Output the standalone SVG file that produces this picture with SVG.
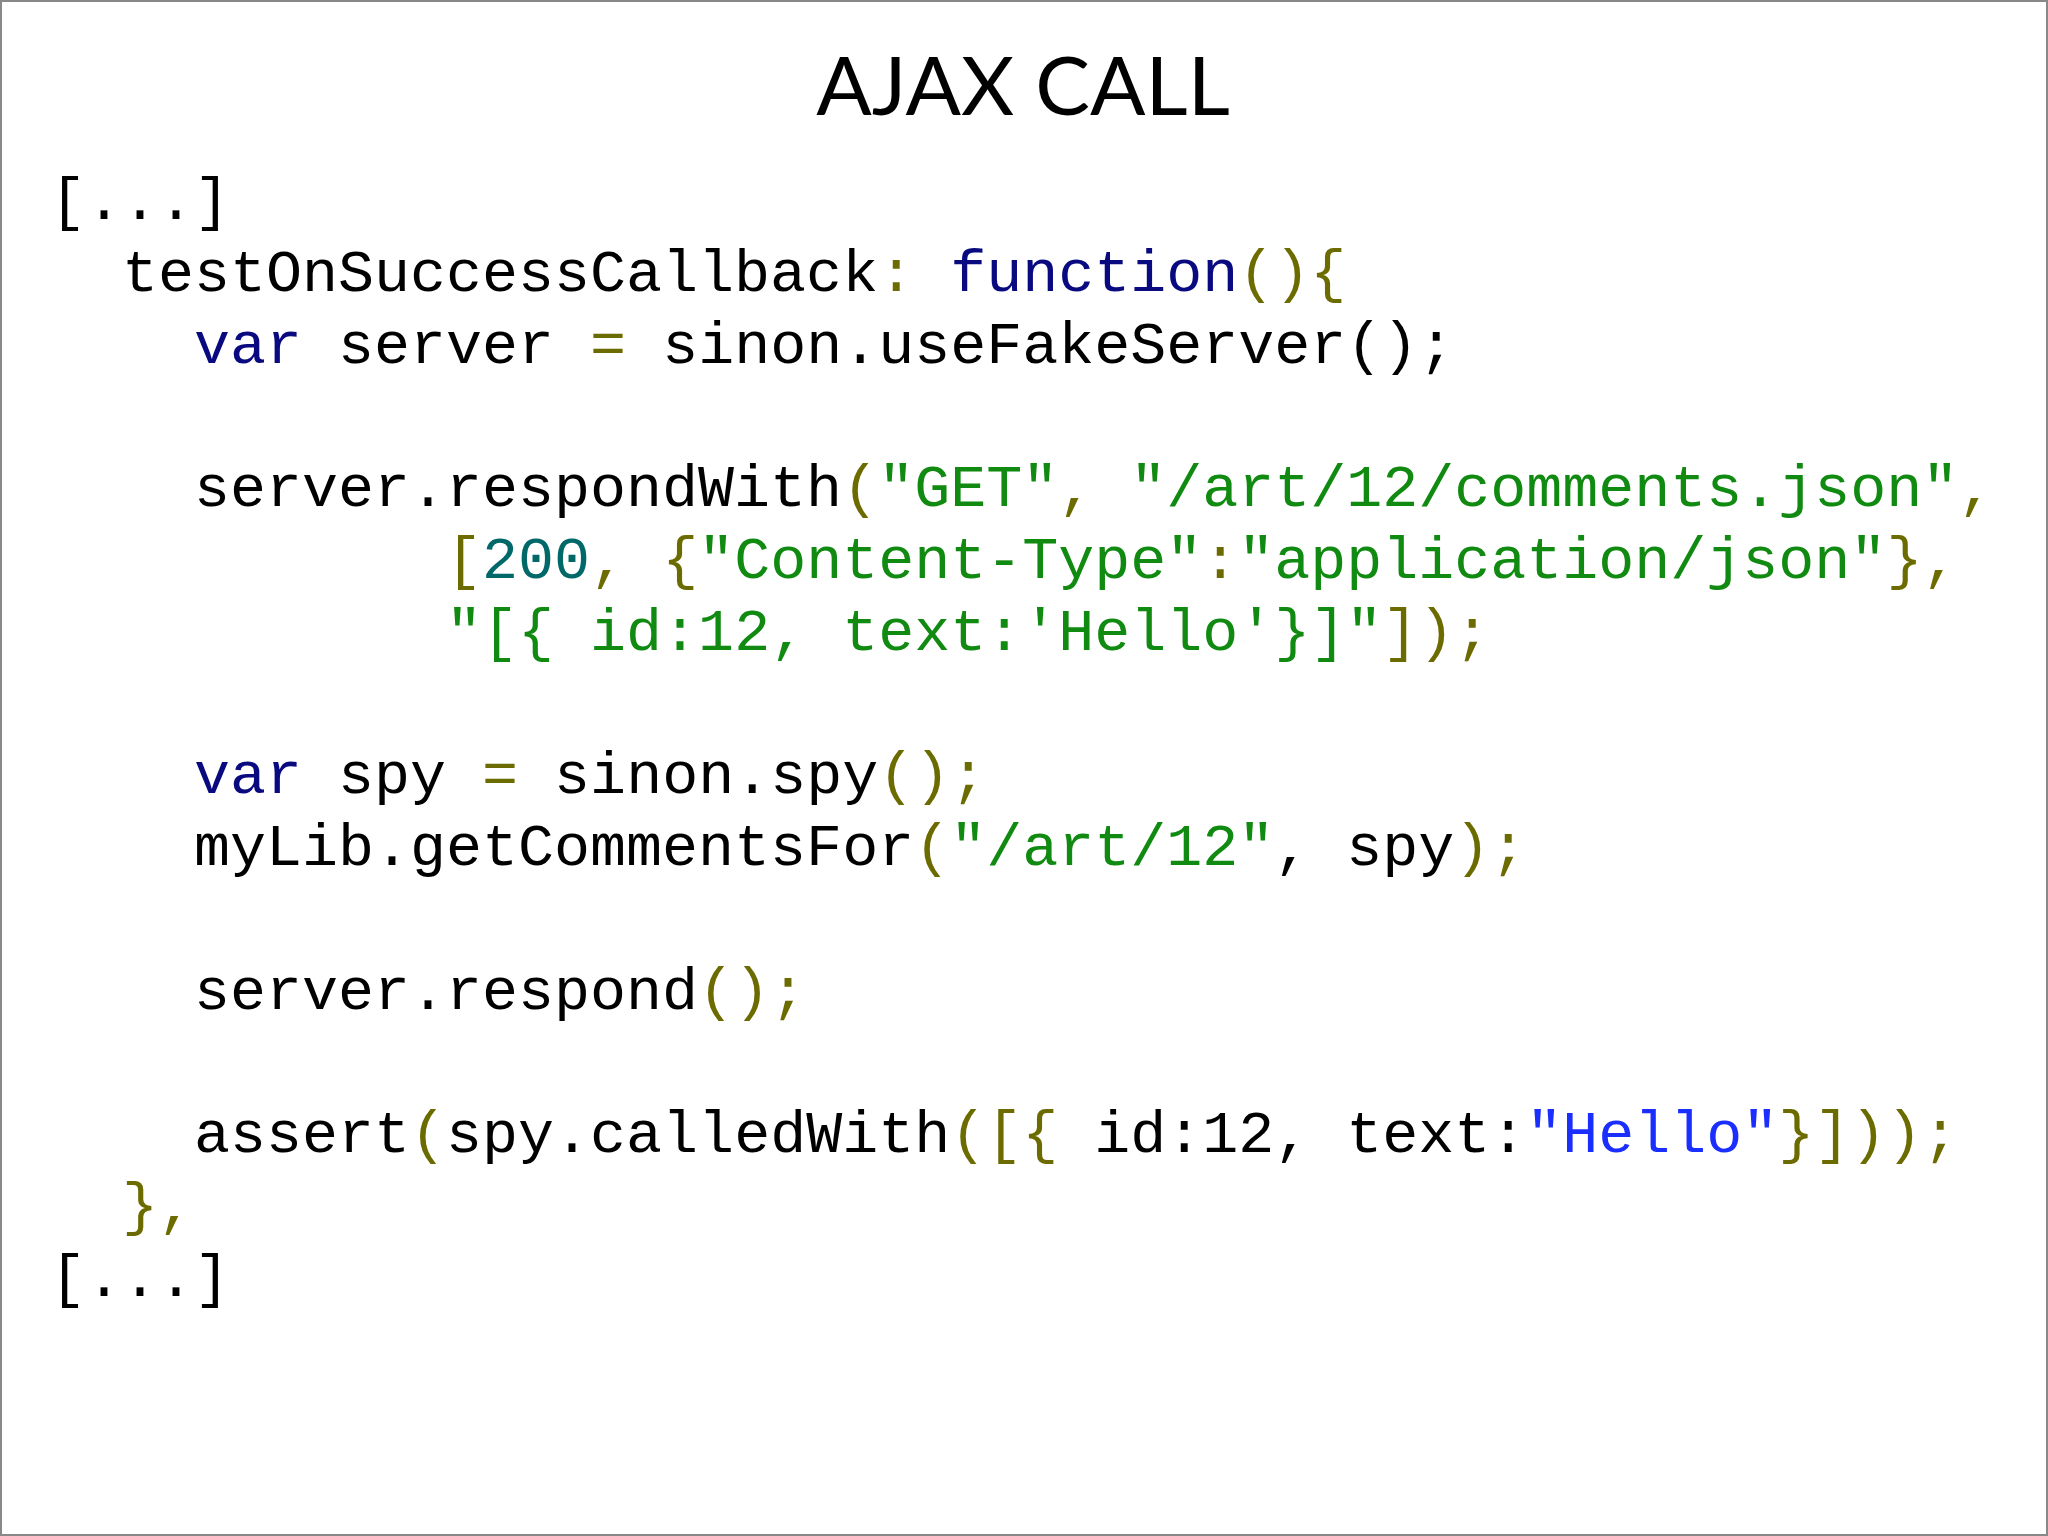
<svg xmlns="http://www.w3.org/2000/svg" width="2048" height="1536" viewBox="0 0 2048 1536">
<style>
.c{font-family:"Liberation Mono","DejaVu Sans Mono",monospace;font-size:60px;fill:#000;white-space:pre}
.k{fill:#0a0a80}.p{fill:#6b6b00}.s{fill:#108a10}.n{fill:#006868}.b{fill:#1a2eff}
</style>
<rect x="0" y="0" width="2048" height="1536" fill="#fff"/>
<rect x="1" y="1" width="2046" height="1534" fill="none" stroke="#888" stroke-width="2"/>
<text x="1023" y="115" text-anchor="middle" font-family="Lato,'Open Sans',sans-serif" font-size="82">AJAX CALL</text>
<g id="code">
<text class="c" x="50" y="219" xml:space="preserve">[...]</text>
<text class="c" x="50" y="291" xml:space="preserve">  testOnSuccessCallback<tspan class="p">:</tspan> <tspan class="k">function</tspan><tspan class="p">(){</tspan></text>
<text class="c" x="50" y="363" xml:space="preserve">    <tspan class="k">var</tspan> server <tspan class="p">=</tspan> sinon.useFakeServer();</text>
<text class="c" x="50" y="506" xml:space="preserve">    server.respondWith<tspan class="p">(</tspan><tspan class="s">"GET"</tspan><tspan class="p">,</tspan> <tspan class="s">"/art/12/comments.json"</tspan><tspan class="p">,</tspan></text>
<text class="c" x="50" y="578" xml:space="preserve">           <tspan class="p">[</tspan><tspan class="n">200</tspan><tspan class="p">, {</tspan><tspan class="s">"Content-Type"</tspan><tspan class="p">:</tspan><tspan class="s">"application/json"</tspan><tspan class="p">},</tspan></text>
<text class="c" x="50" y="650" xml:space="preserve">           <tspan class="s">"[{ id:12, text:'Hello'}]"</tspan><tspan class="p">]);</tspan></text>
<text class="c" x="50" y="793" xml:space="preserve">    <tspan class="k">var</tspan> spy <tspan class="p">=</tspan> sinon.spy<tspan class="p">();</tspan></text>
<text class="c" x="50" y="865" xml:space="preserve">    myLib.getCommentsFor<tspan class="p">(</tspan><tspan class="s">"/art/12"</tspan>, spy<tspan class="p">);</tspan></text>
<text class="c" x="50" y="1009" xml:space="preserve">    server.respond<tspan class="p">();</tspan></text>
<text class="c" x="50" y="1152" xml:space="preserve">    assert<tspan class="p">(</tspan>spy.calledWith<tspan class="p">([{</tspan> id:12, text:<tspan class="b">"Hello"</tspan><tspan class="p">}]));</tspan></text>
<text class="c" x="50" y="1224" xml:space="preserve">  <tspan class="p">},</tspan></text>
<text class="c" x="50" y="1296" xml:space="preserve">[...]</text>
</g>
</svg>
